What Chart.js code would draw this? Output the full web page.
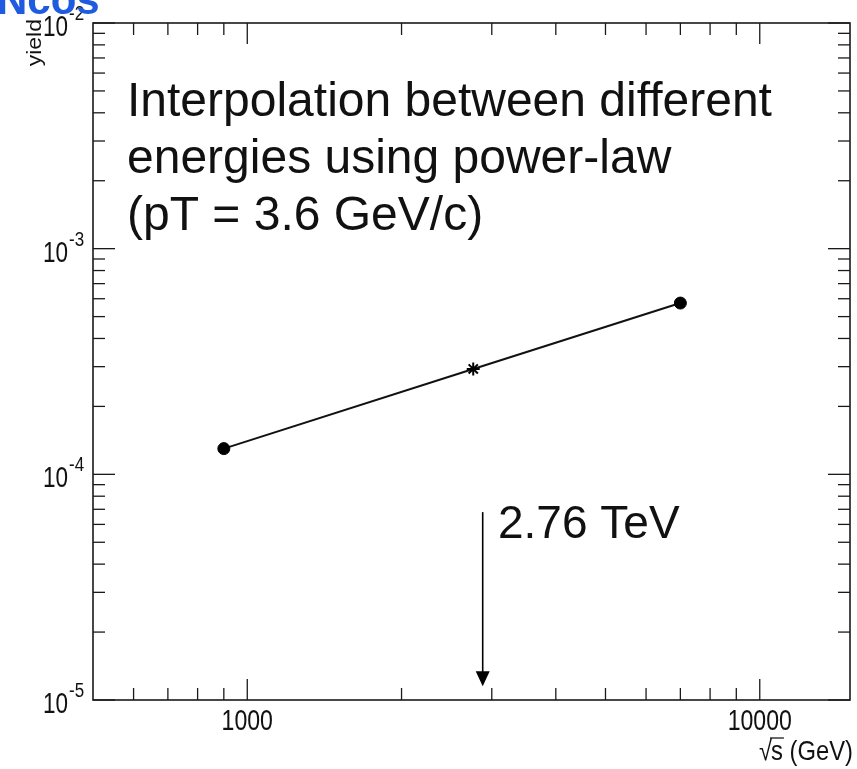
<!DOCTYPE html>
<html>
<head>
<meta charset="utf-8">
<script src="https://cdn.jsdelivr.net/npm/chart.js@4.4.1/dist/chart.umd.min.js"></script>
<style>
  html, body { margin: 0; padding: 0; background: #fff; overflow: hidden; }
</style>
</head>
<body>
<canvas id="yieldChart" width="857" height="769"></canvas>
<script>
// sqrt(s) in GeV and the yield
const energies = [900, 2760, 7000];
const yields = [1.30e-4, 2.93e-4, 5.74e-4];
const markers = ['circle', 'star', 'circle'];

// axis ticks (ROOT style, log axes)
const xMajorTicks = [1000, 10000];
const xLabels = ['1000', '10000'];
const xMinorTicks = [600, 700, 800, 900, 2000, 3000, 4000, 5000, 6000, 7000, 8000, 9000];
const yMajorTicks = [1e-5, 1e-4, 1e-3, 1e-2];
const yExponents = ['-5', '-4', '-3', '-2'];
const yDecades = [1e-5, 1e-4, 1e-3];
const yMantissas = [2, 3, 4, 5, 6, 7, 8, 9];

// annotation
const noteLines = ['Interpolation between different', 'energies using power-law', '(pT = 3.6 GeV/c)'];
const arrowLabel = '2.76 TeV';
const arrowAt = 2880;
const arrowFrom = 6.8e-5;
const arrowTo = 1.15e-5;

const FONT = '"Liberation Sans", Arial, sans-serif';

// ROOT labels look squeezed sideways, so draw them with a horizontal scale
function squeezed(ctx, text, x, y, size, align, sx) {
    ctx.save();
    ctx.translate(x, y);
    ctx.scale(sx, 1);
    ctx.font = `${size}px ${FONT}`;
    ctx.textAlign = align;
    ctx.textBaseline = 'alphabetic';
    ctx.fillText(text, 0, 0);
    ctx.restore();
}

const rootFrame = {
    id: 'rootFrame',
    afterDraw(chart) {
        const { ctx, chartArea: a, scales: { x, y } } = chart;
        ctx.save();
        ctx.strokeStyle = '#1a1a1a';
        ctx.fillStyle = '#111';

        const line = (x0, y0, x1, y1) => {
            ctx.beginPath(); ctx.moveTo(x0, y0); ctx.lineTo(x1, y1); ctx.stroke();
        };

        // frame
        ctx.lineWidth = 1.6;
        ctx.strokeRect(a.left, a.top, a.right - a.left, a.bottom - a.top);

        // ticks on all four sides, pointing inwards
        ctx.lineWidth = 1.3;
        xMajorTicks.forEach(v => {
            const px = x.getPixelForValue(v);
            line(px, a.bottom, px, a.bottom - 21);
            line(px, a.top, px, a.top + 21);
        });
        xMinorTicks.forEach(v => {
            const px = x.getPixelForValue(v);
            line(px, a.bottom, px, a.bottom - 12);
            line(px, a.top, px, a.top + 12);
        });
        yMajorTicks.forEach(v => {
            const py = y.getPixelForValue(v);
            line(a.left, py, a.left + 22, py);
            line(a.right, py, a.right - 22, py);
        });
        yDecades.forEach(d => yMantissas.forEach(m => {
            const py = y.getPixelForValue(m * d);
            line(a.left, py, a.left + 12, py);
            line(a.right, py, a.right - 12, py);
        }));

        // x labels
        xMajorTicks.forEach((v, i) => {
            squeezed(ctx, xLabels[i], x.getPixelForValue(v), a.bottom + 30, 30, 'center', 0.77);
        });

        // y labels 10^n
        yMajorTicks.forEach((v, i) => {
            const py = y.getPixelForValue(v);
            squeezed(ctx, '10', 68, py + 13, 30, 'right', 0.75);
            squeezed(ctx, yExponents[i], 69, py - 3, 20, 'left', 0.85);
        });

        // y title
        ctx.save();
        ctx.translate(41, 19);
        ctx.rotate(-Math.PI / 2);
        ctx.scale(1, 0.9);
        ctx.textAlign = 'right';
        ctx.font = `23px ${FONT}`;
        ctx.fillText('yield', 0, 0);
        ctx.restore();

        // x title: sqrt(s) (GeV)
        const sx = 0.85;
        ctx.font = `28px ${FONT}`;
        const rest = 's (GeV)';
        const wRest = ctx.measureText(rest).width * sx;
        const wS = ctx.measureText('s').width * sx;
        squeezed(ctx, rest, 853, 760, 28, 'right', sx);
        const sLeft = 853 - wRest;
        squeezed(ctx, '\u221A', sLeft + 1, 760, 28, 'right', sx);
        ctx.lineWidth = 1.3;
        line(sLeft - 1, 738, sLeft + wS + 1, 738);

        // arrow towards 2.76 TeV
        const ax = x.getPixelForValue(arrowAt);
        const yTop = y.getPixelForValue(arrowFrom);
        const yTip = y.getPixelForValue(arrowTo);
        ctx.strokeStyle = '#000';
        ctx.fillStyle = '#000';
        ctx.lineWidth = 1.6;
        line(ax, yTop, ax, yTip - 10);
        ctx.beginPath();
        ctx.moveTo(ax - 7, yTip - 15);
        ctx.lineTo(ax + 7, yTip - 15);
        ctx.lineTo(ax, yTip);
        ctx.closePath();
        ctx.fill();

        // slide text
        ctx.fillStyle = '#111';
        ctx.textAlign = 'left';
        ctx.font = `46px ${FONT}`;
        ctx.fillText(arrowLabel, 498, 538);
        ctx.font = `48px ${FONT}`;
        noteLines.forEach((t, i) => ctx.fillText(t, 127, 116 + i * 57));

        // slide title, cut by the top of the picture
        ctx.fillStyle = '#1f5be0';
        ctx.font = `bold 42px ${FONT}`;
        ctx.fillText('Ncos', -3, 14);

        ctx.restore();
    }
};

const ctx = document.getElementById('yieldChart').getContext('2d');
new Chart(ctx, {
    type: 'line',
    data: {
        datasets: [{
            data: energies.map((e, i) => ({ x: e, y: yields[i] })),
            borderColor: '#111',
            borderWidth: 2,
            fill: false,
            tension: 0,
            pointStyle: markers,
            pointRadius: [6, 6.5, 6],
            pointBackgroundColor: '#000',
            pointBorderColor: '#000',
            pointBorderWidth: [1, 2, 1]
        }]
    },
    options: {
        responsive: false,
        animation: false,
        devicePixelRatio: 1,
        events: [],
        layout: { padding: { left: 0, right: 3, top: 23, bottom: 0 } },
        scales: {
            x: {
                type: 'logarithmic',
                min: 500,
                max: 15000,
                grid: { display: false, drawTicks: false },
                border: { display: false },
                ticks: { display: false },
                afterFit: s => { s.height = 69; }
            },
            y: {
                type: 'logarithmic',
                min: 1e-5,
                max: 1e-2,
                grid: { display: false, drawTicks: false },
                border: { display: false },
                ticks: { display: false },
                afterFit: s => { s.width = 93; }
            }
        },
        plugins: {
            legend: { display: false },
            tooltip: { enabled: false }
        }
    },
    plugins: [rootFrame]
});
</script>
</body>
</html>
